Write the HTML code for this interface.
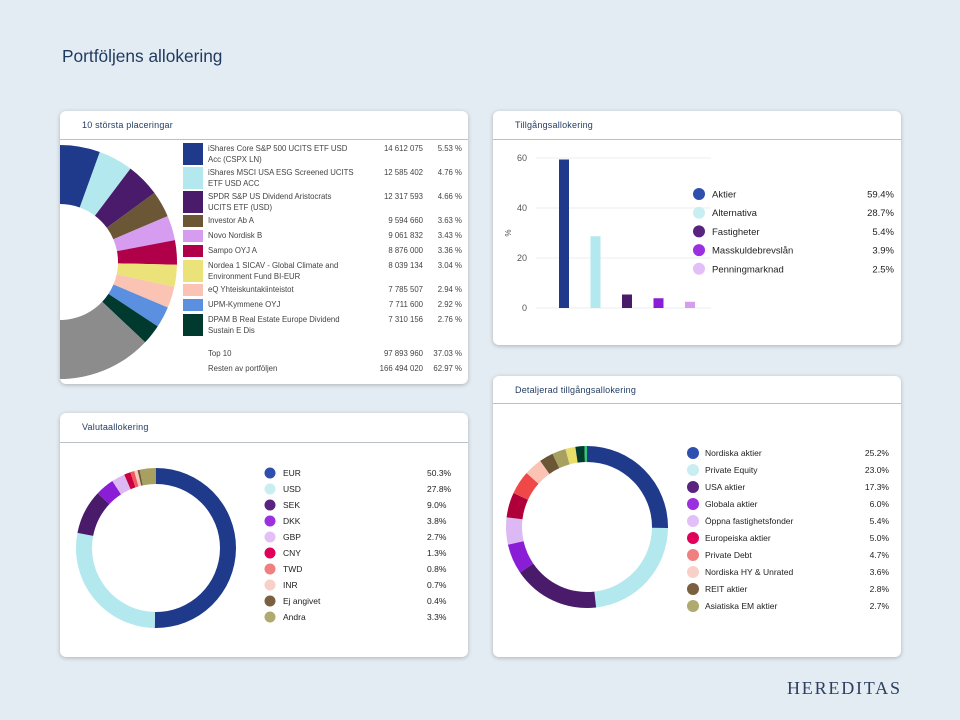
<!DOCTYPE html>
<html><head><meta charset="utf-8">
<style>
body{margin:0;width:960px;height:720px;background:#e4ecf3;font-family:"Liberation Sans",sans-serif;position:relative;overflow:hidden}
.card{position:absolute;background:#fff;border-radius:6px;box-shadow:0 1px 4px rgba(0,0,0,0.25);overflow:hidden}
.ct{position:absolute;left:22px;top:9px;font-size:9px;color:#1f3a5f;letter-spacing:0.2px}
.hl{position:absolute;left:0;right:0;height:1px;background:#b8c0c8}
svg{position:absolute;left:0;top:0}
</style></head><body>
<div style="position:absolute;left:62px;top:46px;font-size:17.3px;color:#1f3a5f">Portföljens allokering</div>

<div class="card" style="left:60px;top:111px;width:408px;height:273px">
 <div class="ct">10 största placeringar</div>
 <div class="hl" style="top:28px"></div>
 <svg id="s1" width="408" height="273"></svg>
</div>
<div class="card" style="left:493px;top:111px;width:408px;height:234px">
 <div class="ct">Tillgångsallokering</div>
 <div class="hl" style="top:28px"></div>
 <svg id="s2" width="408" height="234"></svg>
</div>
<div class="card" style="left:60px;top:413px;width:408px;height:244px">
 <div class="ct">Valutaallokering</div>
 <div class="hl" style="top:29px"></div>
 <svg id="s3" width="408" height="244"></svg>
</div>
<div class="card" style="left:493px;top:376px;width:408px;height:281px">
 <div class="ct">Detaljerad tillgångsallokering</div>
 <div class="hl" style="top:27px"></div>
 <svg id="s4" width="408" height="281"></svg>
</div>
<div style="position:absolute;left:787px;top:678px;font-family:'Liberation Serif',serif;font-size:18px;letter-spacing:1.8px;color:#2b3f5e">HEREDITAS</div>

<script>
// ---- data ----
const holdNames=[["iShares Core S&P 500 UCITS ETF USD","Acc (CSPX LN)"],["iShares MSCI USA ESG Screened UCITS","ETF USD ACC"],["SPDR S&P US Dividend Aristocrats","UCITS ETF (USD)"],["Investor Ab A"],["Novo Nordisk B"],["Sampo OYJ A"],["Nordea 1 SICAV - Global Climate and","Environment Fund BI-EUR"],["eQ Yhteiskuntakiinteistot"],["UPM-Kymmene OYJ"],["DPAM B Real Estate Europe Dividend","Sustain E Dis"]];
const holdValues=["14 612 075","12 585 402","12 317 593","9 594 660","9 061 832","8 876 000","8 039 134","7 785 507","7 711 600","7 310 156"];
const holdPct=[5.53,4.76,4.66,3.63,3.43,3.36,3.04,2.94,2.92,2.76];
const restPct=62.97;
const holdColors=["#1f3a8a","#b3e8ee","#4a1a6b","#6b5636","#d59cf0","#b0004a","#ece27a","#fbc3b3","#5b8fe0","#003a2e"];

const assetCats=["Aktier","Alternativa","Fastigheter","Masskuldebrevslån","Penningmarknad"];
const assetVals=[59.4,28.7,5.4,3.9,2.5];
const assetBarColors=["#1f3a8a","#b3e8ee","#4a1a6b","#8a1ed6","#d59cf0"];
const assetDotColors=["#2f4fae","#c8eef2","#5a2380","#9b30e0","#e2c0f7"];
const yTicks=[0,20,40,60];

const curCats=["EUR","USD","SEK","DKK","GBP","CNY","TWD","INR","Ej angivet","Andra"];
const curVals=[50.3,27.8,9.0,3.8,2.7,1.3,0.8,0.7,0.4,3.3];
const curColors=["#1f3a8a","#b3e8ee","#4a1a6b","#8a1ed6","#dcb8f5","#c8003f","#f05a5a","#f9c8c0","#6b5636","#a8a060"];
const curDots=["#2f4fae","#c8eef2","#5a2380","#9b30e0","#e2c0f7","#e0005a","#f08080","#f9d0c8","#7a6040","#b0aa70"];

const detCats=["Nordiska aktier","Private Equity","USA aktier","Globala aktier","Öppna fastighetsfonder","Europeiska aktier","Private Debt","Nordiska HY & Unrated","REIT aktier","Asiatiska EM aktier"];
const detVals=[25.2,23.0,17.3,6.0,5.4,5.0,4.7,3.6,2.8,2.7];
const detExtraVals=[2.0,1.8,0.5];
const detColors=["#1f3a8a","#b3e8ee","#4a1a6b","#8a1ed6","#dcb8f5","#b0003a","#f04848","#fbc3b3","#6b5636","#a8a060","#e8dc6a","#003a2e","#2ecc71"];
const detDots=["#2f4fae","#c8eef2","#5a2380","#9b30e0","#e2c0f7","#e0005a","#f08080","#f9d0c8","#7a6040","#b0aa70"];

const NS="http://www.w3.org/2000/svg";
function mk(svg,tag,attrs,txt){const e=document.createElementNS(NS,tag);for(const k in attrs)e.setAttribute(k,attrs[k]);if(txt!==undefined)e.textContent=txt;svg.appendChild(e);return e;}
function arc(cx,cy,r0,r1,a0,a1){
 const p=(r,a)=>[cx+r*Math.sin(a),cy-r*Math.cos(a)];
 const lg=(a1-a0)>Math.PI?1:0;
 const [x0,y0]=p(r1,a0),[x1,y1]=p(r1,a1),[x2,y2]=p(r0,a1),[x3,y3]=p(r0,a0);
 return `M${x0},${y0}A${r1},${r1} 0 ${lg} 1 ${x1},${y1}L${x2},${y2}A${r0},${r0} 0 ${lg} 0 ${x3},${y3}Z`;
}
function donut(svg,vals,colors,cx,cy,r0,r1,name){
 const tot=vals.reduce((a,b)=>a+b,0);let a=0;
 vals.forEach((v,i)=>{const a1=a+v/tot*2*Math.PI;
  const p=mk(svg,"path",{d:arc(cx,cy,r0,r1,a,a1),fill:colors[i]});
  
  
  a=a1;});
}

// ---- chart 1 ----
const s1=document.getElementById("s1");
donut(s1,holdPct.concat([restPct]),holdColors.concat(["#8c8c8c"]),0,151,58,117,"holding");
let y=32;
holdNames.forEach((n,i)=>{
 const h=n.length>1?22:12;
 const r=mk(s1,"rect",{x:123,y:y,width:20,height:h,fill:holdColors[i]});
 
 
 n.forEach((line,j)=>mk(s1,"text",{x:148,y:y+8+j*11,"font-size":"7.8",fill:"#444"},line));
 mk(s1,"text",{x:363,y:y+8,"font-size":"7.8",fill:"#444","text-anchor":"end"},holdValues[i]);
 mk(s1,"text",{x:402,y:y+8,"font-size":"7.8",fill:"#444","text-anchor":"end"},holdPct[i].toFixed(2)+" %");
 y+=h+(n.length>1?2:3);
});
const topSum=holdPct.reduce((a,b)=>a+b,0);
mk(s1,"text",{x:148,y:245,"font-size":"7.8",fill:"#444"},"Top 10");
mk(s1,"text",{x:363,y:245,"font-size":"7.8",fill:"#444","text-anchor":"end"},"97 893 960");
mk(s1,"text",{x:402,y:245,"font-size":"7.8",fill:"#444","text-anchor":"end"},topSum.toFixed(2)+" %");
mk(s1,"text",{x:148,y:260,"font-size":"7.8",fill:"#444"},"Resten av portföljen");
mk(s1,"text",{x:363,y:260,"font-size":"7.8",fill:"#444","text-anchor":"end"},"166 494 020");
mk(s1,"text",{x:402,y:260,"font-size":"7.8",fill:"#444","text-anchor":"end"},restPct.toFixed(2)+" %");

// ---- chart 2 ----
const s2=document.getElementById("s2");
const yS=v=>197-v*2.5, xS=i=>71+i*31.5;
yTicks.forEach(t=>{
 mk(s2,"line",{x1:43,x2:218,y1:yS(t),y2:yS(t),stroke:"#eee","stroke-width":1});
 mk(s2,"text",{x:34,y:yS(t)+3,"font-size":"9",fill:"#555","text-anchor":"end"},t);
});
mk(s2,"text",{x:12,y:122,"font-size":"8",fill:"#555","text-anchor":"middle",transform:"rotate(90 12 122)"},"%");
assetVals.forEach((v,i)=>{
 const r=mk(s2,"rect",{x:xS(i)-5,y:yS(v),width:10,height:v*2.5,fill:assetBarColors[i]});
 
 
 const ly=83+i*18.7;
 mk(s2,"circle",{cx:206,cy:ly,r:6,fill:assetDotColors[i]});
 mk(s2,"text",{x:219,y:ly+3.5,"font-size":"9.5",fill:"#222"},assetCats[i]);
 mk(s2,"text",{x:401,y:ly+3.5,"font-size":"9.5",fill:"#222","text-anchor":"end"},v.toFixed(1)+"%");
});

// ---- chart 3 ----
const s3=document.getElementById("s3");
donut(s3,curVals,curColors,96,135,64,80,"currency");
curCats.forEach((c,i)=>{
 const ly=60+i*16;
 mk(s3,"circle",{cx:210,cy:ly,r:5.5,fill:curDots[i]});
 mk(s3,"text",{x:223,y:ly+3.2,"font-size":"8.5",fill:"#222"},c);
 mk(s3,"text",{x:367,y:ly+3.2,"font-size":"8.5",fill:"#222"},curVals[i].toFixed(1)+"%");
});

// ---- chart 4 ----
const s4=document.getElementById("s4");
donut(s4,detVals.concat(detExtraVals),detColors,94,151,65,81,"detailed");
detCats.forEach((c,i)=>{
 const ly=77+i*17;
 mk(s4,"circle",{cx:200,cy:ly,r:6,fill:detDots[i]});
 mk(s4,"text",{x:212,y:ly+3.2,"font-size":"8.5",fill:"#222"},c);
 mk(s4,"text",{x:396,y:ly+3.2,"font-size":"8.5",fill:"#222","text-anchor":"end"},detVals[i].toFixed(1)+"%");
});
</script>
</body></html>
